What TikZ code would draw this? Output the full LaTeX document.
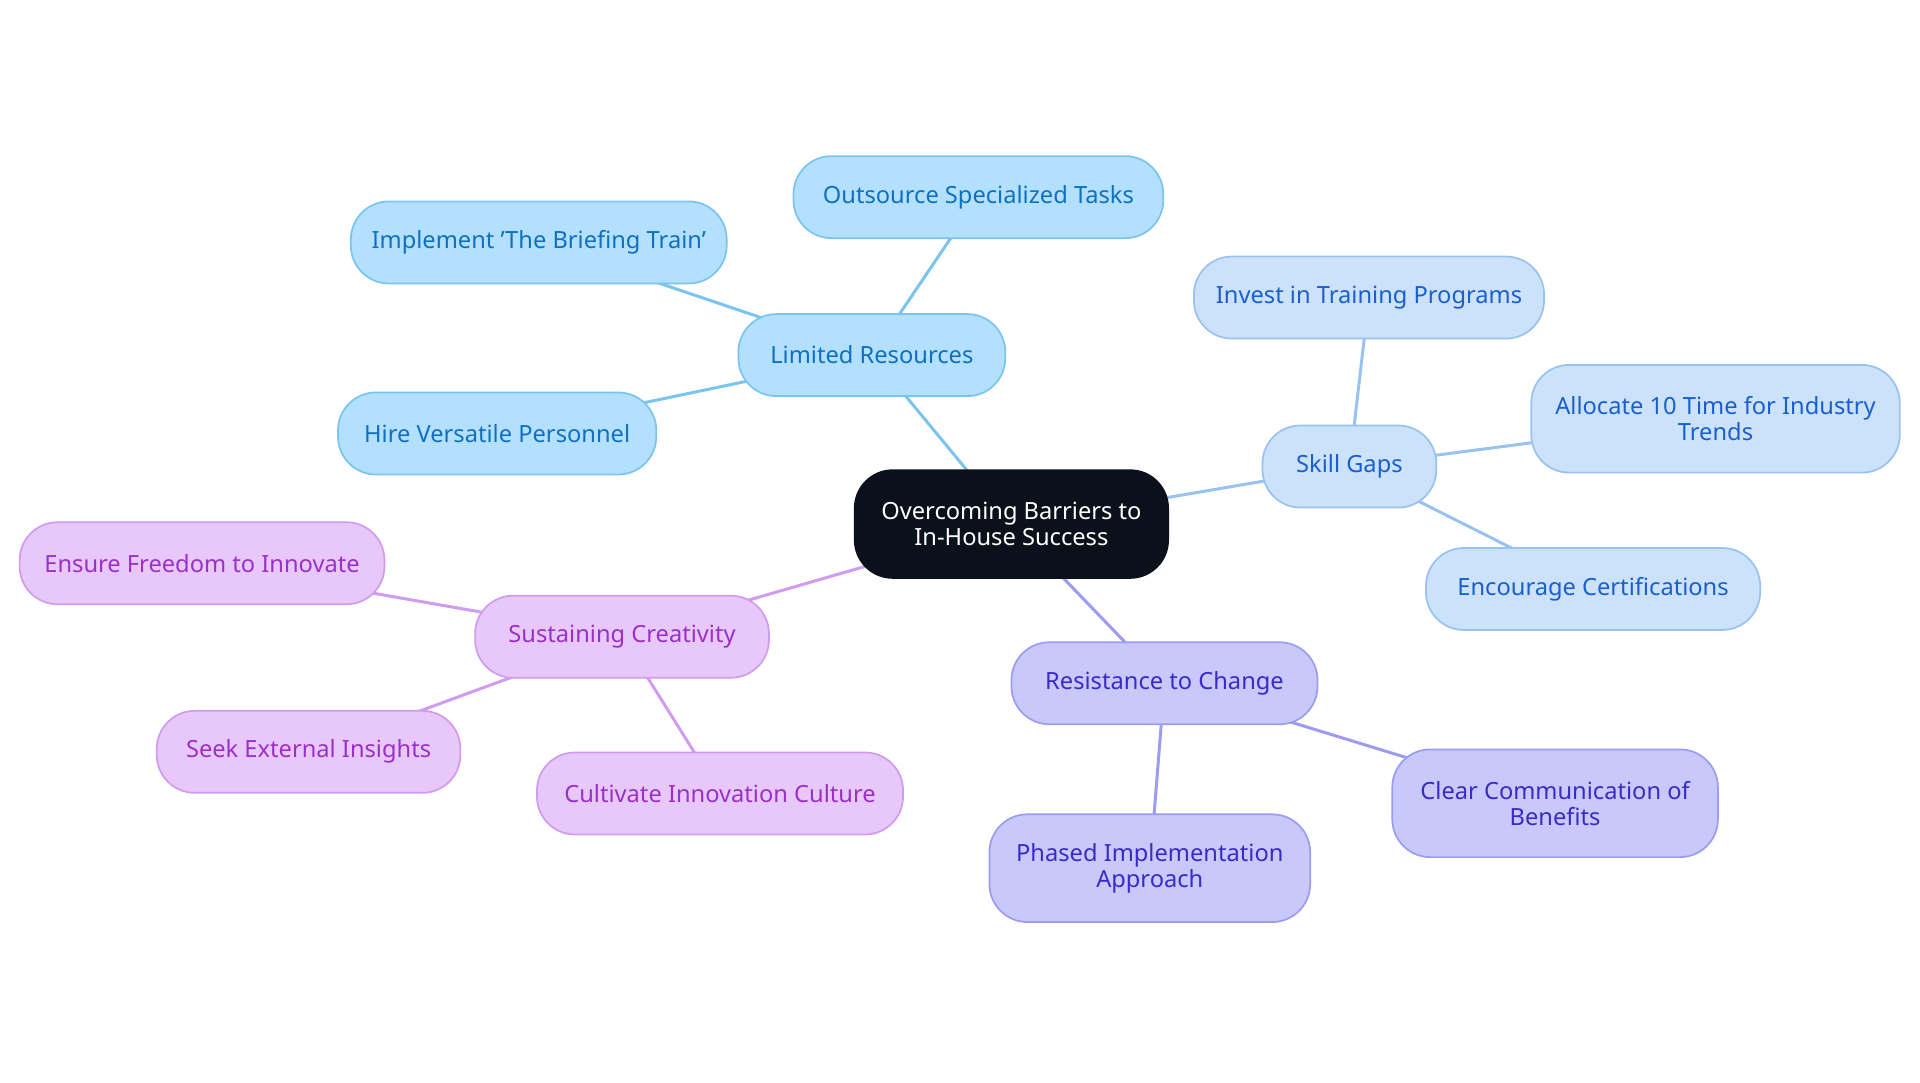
\documentclass[tikz,border=0pt]{standalone}
\usepackage{fontspec}
\setmainfont{Noto Sans}
\usetikzlibrary{backgrounds}
\definecolor{bF}{HTML}{B3E0FF}\definecolor{bD}{HTML}{7CC4F0}\definecolor{bT}{HTML}{1070C0}
\definecolor{sF}{HTML}{CCE2FA}\definecolor{sD}{HTML}{99C2F0}\definecolor{sT}{HTML}{1A5FD0}
\definecolor{rF}{HTML}{C8C8FA}\definecolor{rD}{HTML}{9C9CF0}\definecolor{rT}{HTML}{3A2AC8}
\definecolor{pF}{HTML}{E8C8FA}\definecolor{pD}{HTML}{D09CF0}\definecolor{pT}{HTML}{9A30C8}
\definecolor{cF}{HTML}{0B111B}
\begin{document}
\begin{tikzpicture}[x=0.02cm,y=-0.02cm,
 box/.style={rectangle,rounded corners=0.62cm,draw,line width=0.8pt,align=center,font=\fontsize{11}{12}\selectfont,inner sep=0pt},
 bl/.style={box,fill=bF,draw=bD,text=bT},
 sk/.style={box,fill=sF,draw=sD,text=sT},
 rs/.style={box,fill=rF,draw=rD,text=rT},
 pu/.style={box,fill=pF,draw=pD,text=pT},
 e/.style={line width=1.4pt}]
\useasboundingbox (0,0) rectangle (1568,884);
\node[box,fill=cF,draw=cF,text=white,minimum width=5.12cm,minimum height=1.76cm] (c) at (826,428) {Overcoming Barriers to\\In-House Success};
\node[bl,minimum width=4.36cm,minimum height=1.34cm] (lr) at (712,290) {Limited Resources};
\node[bl,minimum width=6.04cm,minimum height=1.34cm] (os) at (799,161) {Outsource Specialized Tasks};
\node[bl,minimum width=6.14cm,minimum height=1.34cm] (im) at (440,198) {Implement 'The Briefing Train'};
\node[bl,minimum width=5.2cm,minimum height=1.34cm] (hi) at (406,354) {Hire Versatile Personnel};
\node[sk,minimum width=2.84cm,minimum height=1.34cm] (sg) at (1102,381) {Skill Gaps};
\node[sk,minimum width=5.72cm,minimum height=1.34cm] (iv) at (1118,243) {Invest in Training Programs};
\node[sk,minimum width=6.02cm,minimum height=1.76cm] (al) at (1401,342) {Allocate 10 Time for Industry\\Trends};
\node[sk,minimum width=5.46cm,minimum height=1.34cm] (en) at (1301,481) {Encourage Certifications};
\node[rs,minimum width=5.0cm,minimum height=1.34cm] (rc) at (951,558) {Resistance to Change};
\node[rs,minimum width=5.32cm,minimum height=1.76cm] (cl) at (1270,656) {Clear Communication of\\Benefits};
\node[rs,minimum width=5.24cm,minimum height=1.76cm] (ph) at (939,709) {Phased Implementation\\Approach};
\node[pu,minimum width=4.8cm,minimum height=1.34cm] (sc) at (508,520) {Sustaining Creativity};
\node[pu,minimum width=5.96cm,minimum height=1.34cm] (ef) at (165,460) {Ensure Freedom to Innovate};
\node[pu,minimum width=4.96cm,minimum height=1.34cm] (se) at (252,614) {Seek External Insights};
\node[pu,minimum width=5.98cm,minimum height=1.34cm] (cu) at (588,648) {Cultivate Innovation Culture};
\begin{scope}[on background layer]
\draw[e,draw=bD] (c.center)--(lr.center) (lr.center)--(os.center) (lr.center)--(im.center) (lr.center)--(hi.center);
\draw[e,draw=sD] (c.center)--(sg.center) (sg.center)--(iv.center) (sg.center)--(al.center) (sg.center)--(en.center);
\draw[e,draw=rD] (c.center)--(rc.center) (rc.center)--(cl.center) (rc.center)--(ph.center);
\draw[e,draw=pD] (c.center)--(sc.center) (sc.center)--(ef.center) (sc.center)--(se.center) (sc.center)--(cu.center);
\end{scope}
\end{tikzpicture}
\end{document}
